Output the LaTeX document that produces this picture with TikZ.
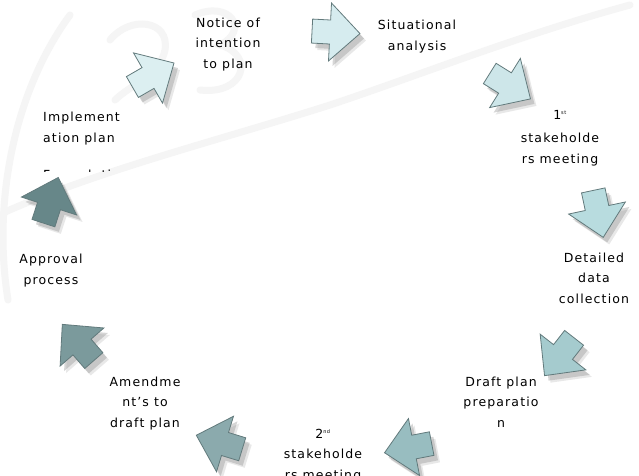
\documentclass[tikz,border=0pt]{standalone}
\usepackage{fontspec}
\setmainfont{DejaVu Sans}[LetterSpace=9]
\definecolor{a1}{HTML}{DCEFF1}
\definecolor{a2}{HTML}{D6ECEF}
\definecolor{a3}{HTML}{CDE6E9}
\definecolor{a4}{HTML}{B8DCDF}
\definecolor{a5}{HTML}{A5CBCE}
\definecolor{a6}{HTML}{98BDC0}
\definecolor{a7}{HTML}{8BAAAD}
\definecolor{a8}{HTML}{7B9A9C}
\definecolor{a9}{HTML}{678789}
\definecolor{edgec}{HTML}{627A7C}
\definecolor{wmc}{HTML}{F5F5F5}
\tikzset{
  lbl/.style={align=center, font=\fontsize{12.5}{20.5}\selectfont, inner sep=0pt, anchor=base},
  lbll/.style={align=left, font=\fontsize{12.5}{21}\selectfont, inner sep=0pt, anchor=base west},
  wm/.style={draw=wmc, line width=7pt, line cap=round},
  arrbody/.style={draw=edgec, line width=0.8pt, line join=miter},
  arrshadow/.style={fill=black!45, opacity=0.35}
}
\newcommand{\blkarrow}[4]{%
  \fill[arrshadow, shift={(#1+4,#2+5)}, rotate=#3]
    (-18,-12) -- (0,-12) -- (0,-29) -- (30,0) -- (0,29) -- (0,12) -- (-18,12) -- cycle;
  \fill[arrshadow, opacity=0.2, shift={(#1+6,#2+7)}, rotate=#3]
    (-18,-12) -- (0,-12) -- (0,-29) -- (30,0) -- (0,29) -- (0,12) -- (-18,12) -- cycle;
  \filldraw[arrbody, fill=#4, shift={(#1,#2)}, rotate=#3]
    (-18,-12) -- (0,-12) -- (0,-29) -- (30,0) -- (0,29) -- (0,12) -- (-18,12) -- cycle;
}
\begin{document}
\begin{tikzpicture}[x=1pt,y=-1pt]
\useasboundingbox (0,0) rectangle (639,475);
\fill[white] (0,0) rectangle (639,475);
% faint watermark strokes
\draw[wm] (5,212) .. controls (100,170) and (220,140) .. (330,105) .. controls (420,75) and (520,35) .. (630,5);
\draw[wm] (8,300) .. controls (-8,200) and (15,90) .. (70,15);
\draw[wm] (110,40) .. controls (130,15) and (170,20) .. (165,50) .. controls (160,75) and (130,85) .. (115,100);
\draw[wm] (195,15) .. controls (230,0) and (250,30) .. (220,45) .. controls (255,55) and (245,95) .. (200,90);
% arrows
\blkarrow{148}{78}{30}{a1}
\blkarrow{330}{32}{-3}{a2}
\blkarrow{505}{83}{-32}{a3}
\blkarrow{597}{208}{-78}{a4}
\blkarrow{563}{352}{232}{a5}
\blkarrow{414}{447}{191}{a6}
\blkarrow{225}{444}{163}{a7}
\blkarrow{82}{347}{131}{a8}
\blkarrow{49}{206}{72}{a9}
% labels (anchor = baseline of last line)
\node[lbl] (notice) at (228,68) {Notice of\\intention\\to plan};
\node[lbl] (situ) at (417,50) {Situational\\analysis};
\node[lbl] (st1) at (560,163) {1\textsuperscript{\fontsize{5}{5}\selectfont st}\\[3pt]stakeholde\\rs meeting};
\node[lbl] (detail) at (594,303) {Detailed\\data\\collection};
\node[lbl] (draft) at (501,427) {Draft plan\\preparatio\\n};
\node[lbl] (st2) at (323,479) {2\textsuperscript{\fontsize{5}{5}\selectfont nd}\\stakeholde\\rs meeting};
\node[lbl] (amend) at (145,427) {Amendme\\nt’s to\\draft plan};
\node[lbl] (approval) at (51,284) {Approval\\process};
\node[lbll] (impl) at (43,142) {Implement\\ation plan};
\begin{scope}
  \clip (0,160) rectangle (639,171);
  \node[lbll] (formul) at (43,179) {Formulatio};
\end{scope}
\end{tikzpicture}
\end{document}
